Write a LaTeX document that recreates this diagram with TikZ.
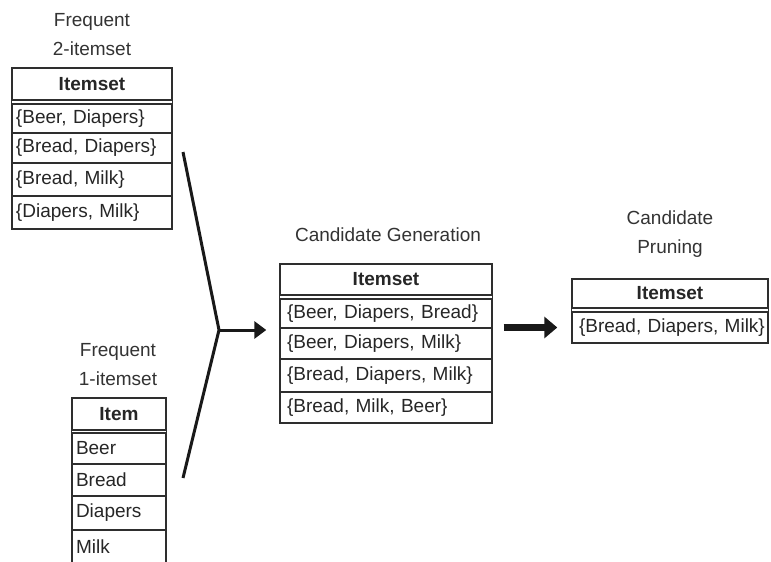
\documentclass[tikz,border=0pt]{standalone}
\usepackage{fontspec}
\setmainfont{Liberation Sans}
\usetikzlibrary{arrows.meta}
\begin{document}
\begin{tikzpicture}[x=1pt,y=-1pt,
  cell/.style={draw=black!82, line width=1.4pt, inner xsep=4pt, inner ysep=0pt,
    font=\fontsize{19}{21}\selectfont, text=black!85, align=left},
  head/.style={cell, align=center, font=\fontsize{19}{21}\selectfont\bfseries},
  tA/.style={text width=152pt},
  tB/.style={text width=86pt},
  tC/.style={text width=204pt},
  tD/.style={text width=190pt, inner xsep=3pt},
  tline/.style={draw=black!82, line width=1.4pt},
  label/.style={align=center, font=\fontsize{19}{29}\selectfont, text=black!80},
  joinline/.style={draw=black!90, line width=3pt},
  arr/.style={draw=black!90, line width=3pt, -{Triangle[length=12pt,width=17pt]}},
  bigarr/.style={draw=black!90, line width=7pt, -{Triangle[length=13pt,width=21pt]}}
]
\useasboundingbox (0,0) rectangle (771,562);
\clip (0,0) rectangle (771,562);

% Table 1: Frequent 2-itemset
\node[label] (l1) at (92,35) {Frequent\\2-itemset};
\node[head,tA,minimum height=32pt] (t1h) at (92,84) {Itemset};
\node[cell,tA,minimum height=29pt] (t1r1) at (92,118.5) {\mbox{\{Beer, Diapers\}}};
\node[cell,tA,minimum height=30pt] (t1r2) at (92,148) {\mbox{\{Bread, Diapers\}}};
\node[cell,tA,minimum height=33pt] (t1r3) at (92,179.5) {\mbox{\{Bread, Milk\}}};
\node[cell,tA,minimum height=33pt] (t1r4) at (92,212.5) {\mbox{\{Diapers, Milk\}}};
\draw[tline] (t1h.south west) -- (t1r1.north west);
\draw[tline] (t1h.south east) -- (t1r1.north east);

% Table 2: Frequent 1-itemset
\node[label] (l2) at (118,365) {Frequent\\1-itemset};
\node[head,tB,minimum height=32pt] (t2h) at (119,414) {Item};
\node[cell,tB,minimum height=31pt] (t2r1) at (119,448.5) {Beer};
\node[cell,tB,minimum height=32pt] (t2r2) at (119,480) {Bread};
\node[cell,tB,minimum height=34pt] (t2r3) at (119,513) {Diapers};
\node[cell,tB,minimum height=34pt] (t2r4) at (119,547) {Milk};
\draw[tline] (t2h.south west) -- (t2r1.north west);
\draw[tline] (t2h.south east) -- (t2r1.north east);

% Table 3: Candidate Generation
\node[label] (l3) at (388,235) {Candidate Generation};
\node[head,tC,minimum height=31pt] (t3h) at (386,279.5) {Itemset};
\node[cell,tC,minimum height=29pt] (t3r1) at (386,313.5) {\mbox{\hspace*{3pt}\{Beer, Diapers, Bread\}}};
\node[cell,tC,minimum height=31pt] (t3r2) at (386,343.5) {\mbox{\hspace*{3pt}\{Beer, Diapers, Milk\}}};
\node[cell,tC,minimum height=33pt] (t3r3) at (386,375.5) {\mbox{\hspace*{3pt}\{Bread, Diapers, Milk\}}};
\node[cell,tC,minimum height=31pt] (t3r4) at (386,407.5) {\mbox{\hspace*{3pt}\{Bread, Milk, Beer\}}};
\draw[tline] (t3h.south west) -- (t3r1.north west);
\draw[tline] (t3h.south east) -- (t3r1.north east);

% Table 4: Candidate Pruning
\node[label] (l4) at (670,234) {Candidate\\Pruning};
\node[head,tD,minimum height=29pt] (t4h) at (670,293.5) {Itemset};
\node[cell,tD,minimum height=31pt] (t4r1) at (670,327.5) {\mbox{\hspace*{4pt}\{Bread, Diapers, Milk\}}};
\draw[tline] (t4h.south west) -- (t4r1.north west);
\draw[tline] (t4h.south east) -- (t4r1.north east);

% Connectors
\coordinate (u) at (183,152);
\coordinate (j) at (219,330);
\coordinate (d) at (183,478);
\draw[joinline, line join=miter] (u) -- (j) -- (d);
\draw[arr, shorten >=13pt] (j) -- (j -| t3r1.west);
\draw[bigarr, shorten <=11pt, shorten >=14pt] (t4r1 -| t3r1.east) -- (t4r1.west);
\end{tikzpicture}
\end{document}
